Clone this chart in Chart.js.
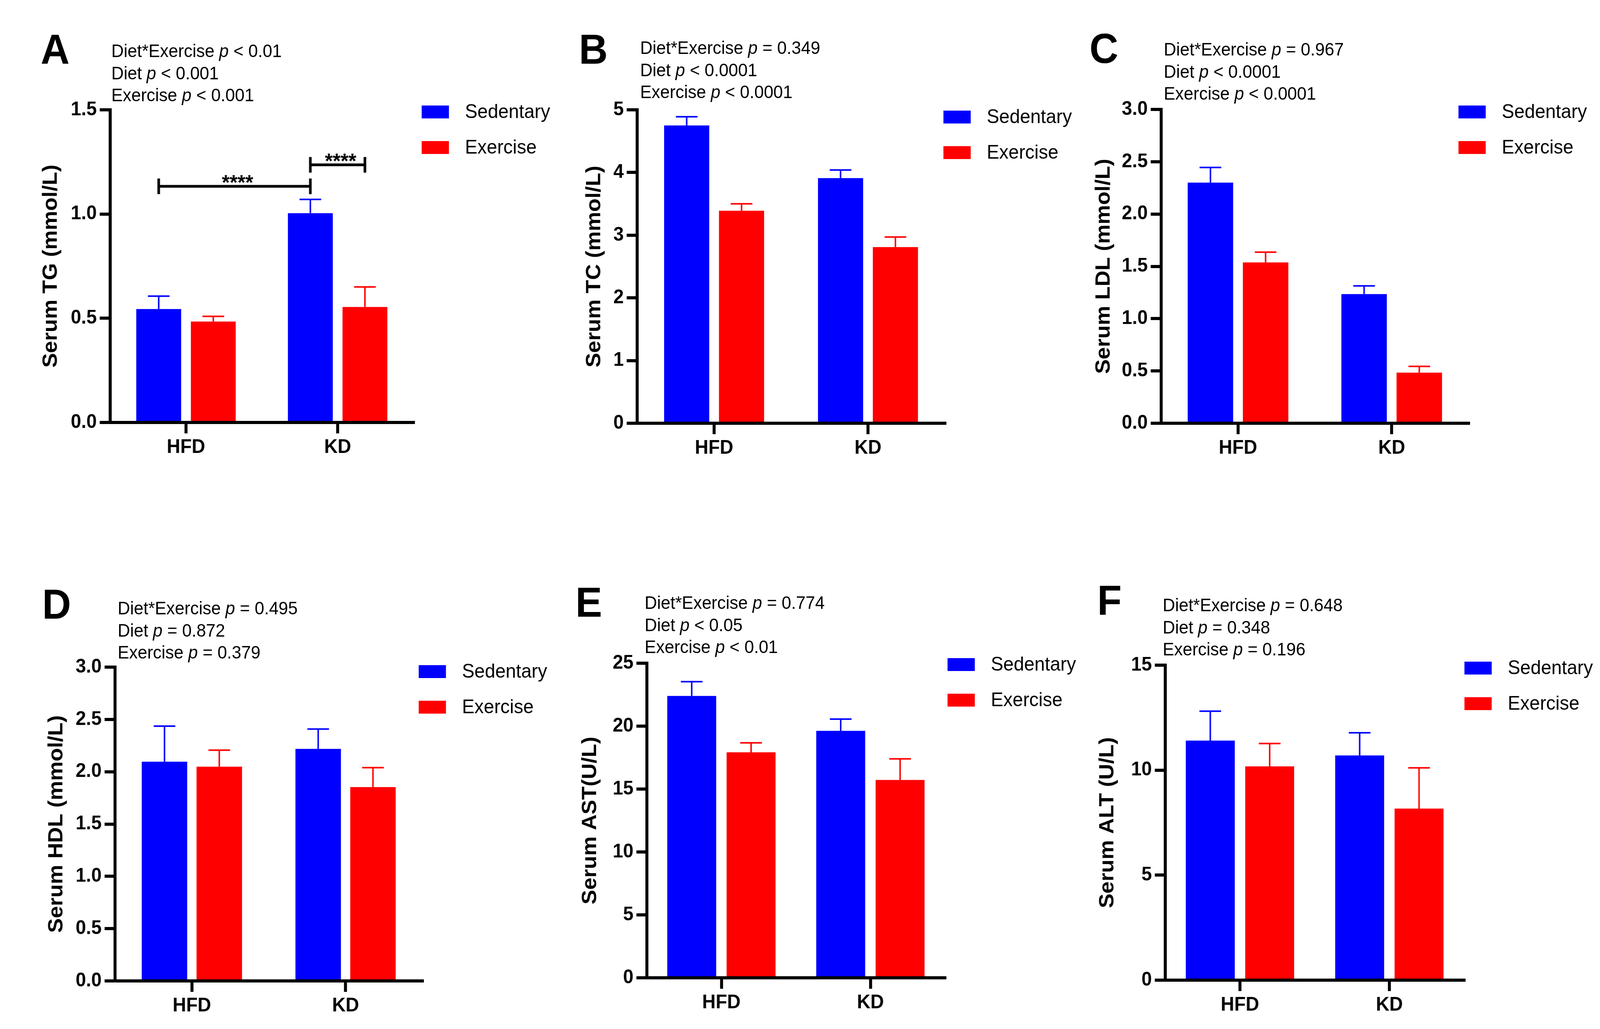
<!DOCTYPE html>
<html>
<head>
<meta charset="utf-8">
<script src="https://cdn.jsdelivr.net/npm/chart.js@4.4.1/dist/chart.umd.min.js"></script>
<style>
  html, body { margin: 0; padding: 0; background: #fff; overflow: hidden; }
  #page { position: relative; width: 4284px; height: 2633px; font-family: "Liberation Sans", Arial, sans-serif; color: #000; transform-origin: 0 0; }
  canvas { position: absolute; }
  .letra { position: absolute; font-size: 107px; font-weight: bold; line-height: 1; }
  .pval { position: absolute; font-size: 46px; line-height: 1; white-space: nowrap; }
</style>
</head>
<body>
<div id="page"></div>
<script>
// ==== DATOS ====
const grupos = ['HFD', 'KD'];
const series = ['Sedentary', 'Exercise'];

// A - TG
const tgSed = [0.544, 1.004];
const tgSedErr = [0.062, 0.066];
const tgEx = [0.484, 0.554];
const tgExErr = [0.025, 0.096];
const tgTicks = ['0.0', '0.5', '1.0', '1.5'];
const tgStats = ['Diet*Exercise <i>p</i> &lt; 0.01', 'Diet <i>p</i> &lt; 0.001', 'Exercise <i>p</i> &lt; 0.001'];
const tgCorchetes = [
  { from: [0, 0], to: [0, 1], y: 1.133, label: '****' },
  { from: [0, 1], to: [1, 1], y: 1.236, label: '****' }
];

// B - TC
const tcSed = [4.75, 3.91];
const tcSedErr = [0.14, 0.13];
const tcEx = [3.39, 2.81];
const tcExErr = [0.11, 0.16];
const tcTicks = ['0', '1', '2', '3', '4', '5'];
const tcStats = ['Diet*Exercise <i>p</i> = 0.349', 'Diet <i>p</i> &lt; 0.0001', 'Exercise <i>p</i> &lt; 0.0001'];

// C - LDL
const ldlSed = [2.30, 1.235];
const ldlSedErr = [0.145, 0.078];
const ldlEx = [1.537, 0.484];
const ldlExErr = [0.098, 0.06];
const ldlTicks = ['0.0', '0.5', '1.0', '1.5', '2.0', '2.5', '3.0'];
const ldlStats = ['Diet*Exercise <i>p</i> = 0.967', 'Diet <i>p</i> &lt; 0.0001', 'Exercise <i>p</i> &lt; 0.0001'];

// D - HDL
const hdlSed = [2.096, 2.218];
const hdlSedErr = [0.34, 0.19];
const hdlEx = [2.048, 1.853];
const hdlExErr = [0.158, 0.186];
const hdlTicks = ['0.0', '0.5', '1.0', '1.5', '2.0', '2.5', '3.0'];
const hdlStats = ['Diet*Exercise <i>p</i> = 0.495', 'Diet <i>p</i> = 0.872', 'Exercise <i>p</i> = 0.379'];

// E - AST
const astSed = [22.4, 19.63];
const astSedErr = [1.13, 0.93];
const astEx = [17.92, 15.72];
const astExErr = [0.75, 1.68];
const astTicks = ['0', '5', '10', '15', '20', '25'];
const astStats = ['Diet*Exercise <i>p</i> = 0.774', 'Diet <i>p</i> &lt; 0.05', 'Exercise <i>p</i> &lt; 0.01'];

// F - ALT
const altSed = [11.41, 10.7];
const altSedErr = [1.4, 1.08];
const altEx = [10.18, 8.17];
const altExErr = [1.09, 1.94];
const altTicks = ['0', '5', '10', '15'];
const altStats = ['Diet*Exercise <i>p</i> = 0.648', 'Diet <i>p</i> = 0.348', 'Exercise <i>p</i> = 0.196'];

// ==== ESTILO / POSICIONES ====
const AZUL = '#0000ff';
const ROJO = '#ff0000';
const FUENTE = '"Liberation Sans", Arial, sans-serif';
Chart.defaults.font.family = FUENTE;
Chart.defaults.color = '#000';

const paneles = [
  { letra: 'A', letraX: 109, letraY: 164, statsX: 298, statsY: 146, ejeX: 295, derecha: 1107, arriba: 281, abajo: 1081, tituloX: 137, leyenda: [1129, 270], cat: 0.72, bar: 0.822,
    titulo: 'Serum TG (mmol/L)', sed: tgSed, sedErr: tgSedErr, ex: tgEx, exErr: tgExErr, ticks: tgTicks, stats: tgStats, corchetes: tgCorchetes },
  { letra: 'B', letraX: 1550, letraY: 164, statsX: 1714, statsY: 138, ejeX: 1706, derecha: 2530, arriba: 281, abajo: 1083, tituloX: 1592, leyenda: [2526, 283], cat: 0.713, bar: 0.823,
    titulo: 'Serum TC (mmol/L)', sed: tcSed, sedErr: tcSedErr, ex: tcEx, exErr: tcExErr, ticks: tcTicks, stats: tcStats },
  { letra: 'C', letraX: 2917, letraY: 162, statsX: 3116, statsY: 142, ejeX: 3109, derecha: 3932, arriba: 280, abajo: 1083, tituloX: 2956, leyenda: [3905, 270], cat: 0.718, bar: 0.824,
    titulo: 'Serum LDL (mmol/L)', sed: ldlSed, sedErr: ldlSedErr, ex: ldlEx, exErr: ldlExErr, ticks: ldlTicks, stats: ldlStats },
  { letra: 'D', letraX: 113, letraY: 1584, statsX: 315, statsY: 1572, ejeX: 308, derecha: 1131, arriba: 1707, abajo: 2510, tituloX: 152, leyenda: [1121, 1702], cat: 0.713, bar: 0.83,
    titulo: 'Serum HDL (mmol/L)', sed: hdlSed, sedErr: hdlSedErr, ex: hdlEx, exErr: hdlExErr, ticks: hdlTicks, stats: hdlStats },
  { letra: 'E', letraX: 1541, letraY: 1579, statsX: 1726, statsY: 1558, ejeX: 1732, derecha: 2530, arriba: 1697, abajo: 2502, tituloX: 1581, leyenda: [2537, 1684], cat: 0.797, bar: 0.824,
    titulo: 'Serum AST(U/L)', sed: astSed, sedErr: astSedErr, ex: astEx, exErr: astExErr, ticks: astTicks, stats: astStats },
  { letra: 'F', letraX: 2938, letraY: 1574, statsX: 3113, statsY: 1564, ejeX: 3120, derecha: 3920, arriba: 1702, abajo: 2508, tituloX: 2966, leyenda: [3921, 1693], cat: 0.795, bar: 0.824,
    titulo: 'Serum ALT (U/L)', sed: altSed, sedErr: altSedErr, ex: altEx, exErr: altExErr, ticks: altTicks, stats: altStats }
];

// ==== PLUGINS ====
// barras de error (solo hacia arriba, con tapa)
const barrasError = {
  id: 'barrasError',
  afterDatasetsDraw(chart) {
    const ctx = chart.ctx;
    const y = chart.scales.y;
    chart.data.datasets.forEach((ds, i) => {
      chart.getDatasetMeta(i).data.forEach((bar, j) => {
        const tope = y.getPixelForValue(ds.data[j] + ds.errores[j]);
        ctx.save();
        ctx.strokeStyle = ds.backgroundColor;
        ctx.lineWidth = 4;
        ctx.beginPath();
        ctx.moveTo(bar.x, bar.y);
        ctx.lineTo(bar.x, tope);
        ctx.moveTo(bar.x - 29, tope);
        ctx.lineTo(bar.x + 29, tope);
        ctx.stroke();
        ctx.restore();
      });
    });
  }
};

// corchetes de significancia
const corchetes = {
  id: 'corchetes',
  afterDatasetsDraw(chart, args, opts) {
    const ctx = chart.ctx;
    (opts.items || []).forEach(c => {
      const x1 = chart.getDatasetMeta(c.from[0]).data[c.from[1]].x;
      const x2 = chart.getDatasetMeta(c.to[0]).data[c.to[1]].x;
      const yy = chart.scales.y.getPixelForValue(c.y);
      ctx.save();
      ctx.strokeStyle = '#000';
      ctx.lineWidth = 7;
      ctx.beginPath();
      ctx.moveTo(x1, yy); ctx.lineTo(x2, yy);
      ctx.moveTo(x1, yy - 20); ctx.lineTo(x1, yy + 20);
      ctx.moveTo(x2, yy - 20); ctx.lineTo(x2, yy + 20);
      ctx.stroke();
      ctx.fillStyle = '#000';
      ctx.font = 'bold 54px ' + FUENTE;
      ctx.textAlign = 'center';
      ctx.textBaseline = 'alphabetic';
      ctx.fillText(c.label, (x1 + x2) / 2 + 8, yy + 8);
      ctx.restore();
    });
  }
};

// leyenda a la derecha
const leyendaCaja = {
  id: 'leyendaCaja',
  afterDraw(chart, args, opts) {
    const ctx = chart.ctx;
    chart.data.datasets.forEach((ds, i) => {
      const y0 = opts.y + i * 91;
      ctx.save();
      ctx.fillStyle = ds.backgroundColor;
      ctx.fillRect(opts.x, y0, 73, 33);
      ctx.fillStyle = '#000';
      ctx.font = '50px ' + FUENTE;
      ctx.textBaseline = 'middle';
      ctx.fillText(ds.label, opts.x + 116, y0 + 18);
      ctx.restore();
    });
  }
};

// ==== CONSTRUCCIÓN ====
const page = document.getElementById('page');

// la ventana real puede no medir 4284x2633: se ajusta la página entera a ella
const sx = window.innerWidth / 4284;
const sy = window.innerHeight / 2633;
if (Math.abs(sx - 1) > 0.002 || Math.abs(sy - 1) > 0.002) page.style.transform = 'scale(' + sx + ',' + sy + ')';

function texto(clase, html, x, base, fs) {
  const d = document.createElement('div');
  d.className = clase;
  d.innerHTML = html;
  d.style.left = x + 'px';
  d.style.top = (base - 0.8465 * fs) + 'px';
  page.appendChild(d);
}

function crearPanel(p) {
  const padTop = 50, altoX = 100, padDer = 380;
  const anchoY = p.ejeX - p.tituloX + 34;
  const left = p.tituloX - 34;
  const top = p.arriba - padTop;
  const w = anchoY + (p.derecha - p.ejeX) + padDer;
  const h = padTop + (p.abajo - p.arriba) + altoX;

  const cv = document.createElement('canvas');
  cv.width = w; cv.height = h;
  cv.style.left = left + 'px'; cv.style.top = top + 'px';
  cv.style.width = w + 'px'; cv.style.height = h + 'px';
  page.appendChild(cv);

  texto('letra', p.letra, p.letraX, p.letraY, 107);
  p.stats.forEach((s, i) => texto('pval', s, p.statsX, p.statsY + i * 56.5, 46));

  const ejeNegro = { display: true, width: 8, color: '#000' };
  const rejilla = { display: true, drawOnChartArea: false, tickLength: 28, lineWidth: 8, color: '#000' };

  new Chart(cv, {
    type: 'bar',
    data: {
      labels: grupos,
      datasets: [
        { label: series[0], data: p.sed, errores: p.sedErr, backgroundColor: AZUL, borderWidth: 0, barPercentage: p.bar, categoryPercentage: p.cat },
        { label: series[1], data: p.ex, errores: p.exErr, backgroundColor: ROJO, borderWidth: 0, barPercentage: p.bar, categoryPercentage: p.cat }
      ]
    },
    options: {
      responsive: false,
      animation: false,
      devicePixelRatio: 1,
      layout: { padding: { top: padTop, right: padDer, left: 0, bottom: 0 } },
      plugins: {
        legend: { display: false },
        tooltip: { enabled: false },
        leyendaCaja: { x: p.leyenda[0] - left, y: p.leyenda[1] - top },
        corchetes: { items: p.corchetes || [] }
      },
      scales: {
        x: {
          offset: true,
          grid: Object.assign({}, rejilla, { offset: false }),
          border: ejeNegro,
          ticks: { font: { size: 50, weight: 'bold' }, color: '#000', padding: 6, maxRotation: 0 },
          afterFit: (s) => { s.height = altoX; }
        },
        y: {
          min: 0,
          max: parseFloat(p.ticks[p.ticks.length - 1]),
          grid: rejilla,
          border: ejeNegro,
          ticks: { font: { size: 50, weight: 'bold' }, color: '#000', padding: 8, callback: (v, i) => p.ticks[i] },
          afterBuildTicks: (s) => { s.ticks = p.ticks.map(t => ({ value: parseFloat(t) })); },
          afterFit: (s) => { s.width = anchoY; },
          title: { display: true, text: p.titulo, font: { size: 56, weight: 'bold' }, color: '#000', padding: 0 }
        }
      }
    },
    plugins: [barrasError, corchetes, leyendaCaja]
  });
}

paneles.forEach(crearPanel);
</script>
</body>
</html>
